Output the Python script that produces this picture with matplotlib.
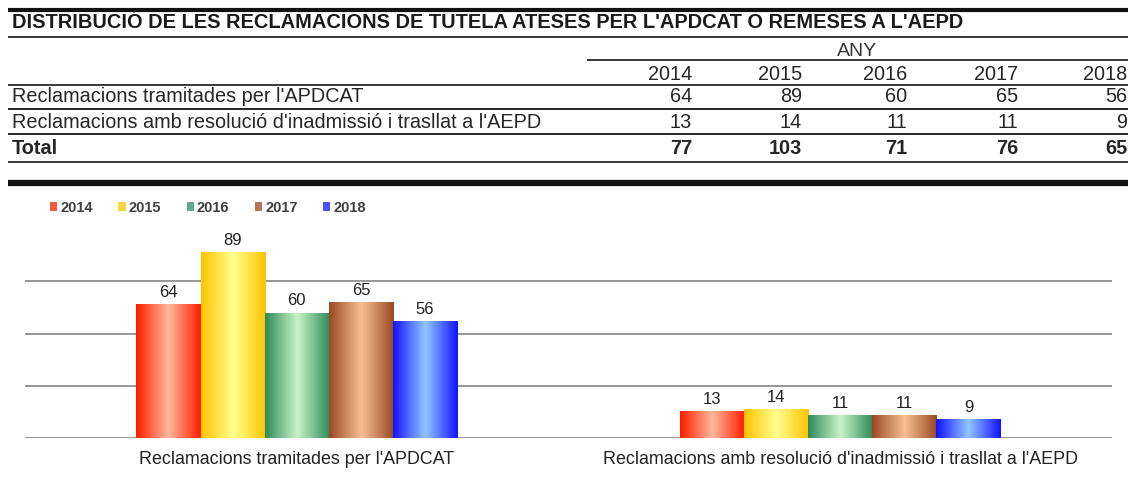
import matplotlib
matplotlib.use("Agg")
import matplotlib.pyplot as plt
import numpy as np
from matplotlib.colors import LinearSegmentedColormap
from matplotlib.lines import Line2D
from matplotlib.patches import Patch

plt.rcParams['font.family'] = ['Liberation Sans', 'DejaVu Sans']

title = "DISTRIBUCIÓ DE LES RECLAMACIONS DE TUTELA ATESES PER L'APDCAT O REMESES A L'AEPD"
years = ['2014', '2015', '2016', '2017', '2018']
categories = ["Reclamacions tramitades per l'APDCAT",
              "Reclamacions amb resolució d'inadmissió i trasllat a l'AEPD"]
tramitades = [64, 89, 60, 65, 56]
inadmissio = [13, 14, 11, 11, 9]
totals = [77, 103, 71, 76, 65]

# gradient colours per year: (edge, centre)
edge_cols = ['#ff1e00', '#ffc400', '#2f8c5c', '#9c4a24', '#1414ff']
mid_cols = ['#ffb99c', '#ffff90', '#c9f4c9', '#f7c093', '#92c6ff']

W, H = 1131, 492
fig = plt.figure(figsize=(W / 100, H / 100), dpi=100)


def fx(px):
    return px / W


def fy(py):
    return 1 - py / H


def hline(y, x0=8, x1=1128, lw=1.4, c='#262626'):
    fig.add_artist(Line2D([fx(x0), fx(x1)], [fy(y), fy(y)], lw=lw, color=c,
                          transform=fig.transFigure, solid_capstyle='butt'))


# ---- table ----
hline(10, lw=3.0, c='#111111')
fig.text(fx(12), fy(23), title, fontsize=14.4, fontweight='bold', va='center', ha='left', color='#1a1a1a')
hline(37, c='#3a3a3a')
fig.text(fx(857), fy(51), 'ANY', fontsize=14, va='center', ha='center', color='#333333')
hline(60, x0=587, c='#3a3a3a')
hline(85, c='#3a3a3a')
hline(109)
hline(134)
hline(162, c='#3a3a3a')
hline(183, lw=4.5, c='#111111')

col_right = [692, 802, 907, 1018, 1127]
rows = [(years, 74, 'normal', None),
        ([str(v) for v in tramitades], 97, 'normal', categories[0]),
        ([str(v) for v in inadmissio], 122, 'normal', categories[1]),
        ([str(v) for v in totals], 148, 'bold', 'Total')]
for vals, y, wt, lab in rows:
    if lab:
        fig.text(fx(12), fy(y), lab, fontsize=14.3, fontweight=wt, va='center', ha='left', color='#262626')
    for xr, v in zip(col_right, vals):
        fig.text(fx(xr), fy(y), v, fontsize=14.3, fontweight=wt, va='center', ha='right', color='#262626')

# ---- chart ----
ax = fig.add_axes([fx(25), fy(438), fx(1112) - fx(25), fy(229) - fy(438)])
x = np.arange(len(categories))
bw = 0.118
for i, yr in enumerate(years):
    vals = [tramitades[i], inadmissio[i]]
    bars = ax.bar(x + (i - 2) * bw, vals, bw, color='none', zorder=3)
    cmap = LinearSegmentedColormap.from_list(yr, [edge_cols[i], mid_cols[i], edge_cols[i]])
    grad = np.linspace(0, 1, 64).reshape(1, -1)
    for b in bars:
        im = ax.imshow(grad, cmap=cmap, aspect='auto', zorder=2,
                       extent=[b.get_x(), b.get_x() + b.get_width(), 0, b.get_height()])
        im.set_clip_path(b)
    ax.bar_label(bars, padding=3, fontsize=12, color='#222222')

ax.set_xlim(-0.5, 1.5)
ax.set_ylim(0, 100)
ax.set_yticks([0, 25, 50, 75])
ax.yaxis.grid(True, color='#8f8f8f', lw=1.3)
ax.set_axisbelow(True)
ax.tick_params(axis='y', length=0, labelleft=False)
ax.set_xticks(x, categories, fontsize=12.9, color='#222222')
ax.tick_params(axis='x', length=0, pad=9)
for s in ax.spines.values():
    s.set_visible(False)

handles = [Patch(facecolor=edge_cols[i], edgecolor='none', alpha=0.75) for i in range(len(years))]
fig.legend(handles, years, loc='upper left', bbox_to_anchor=(fx(50), fy(201)), ncol=5,
           frameon=False, handlelength=0.5, handleheight=0.55, handletextpad=0.2,
           columnspacing=1.75, borderpad=0, borderaxespad=0,
           prop={'weight': 'bold', 'size': 10.5}, labelcolor='#404040')

fig.savefig('out.png', dpi=100)
